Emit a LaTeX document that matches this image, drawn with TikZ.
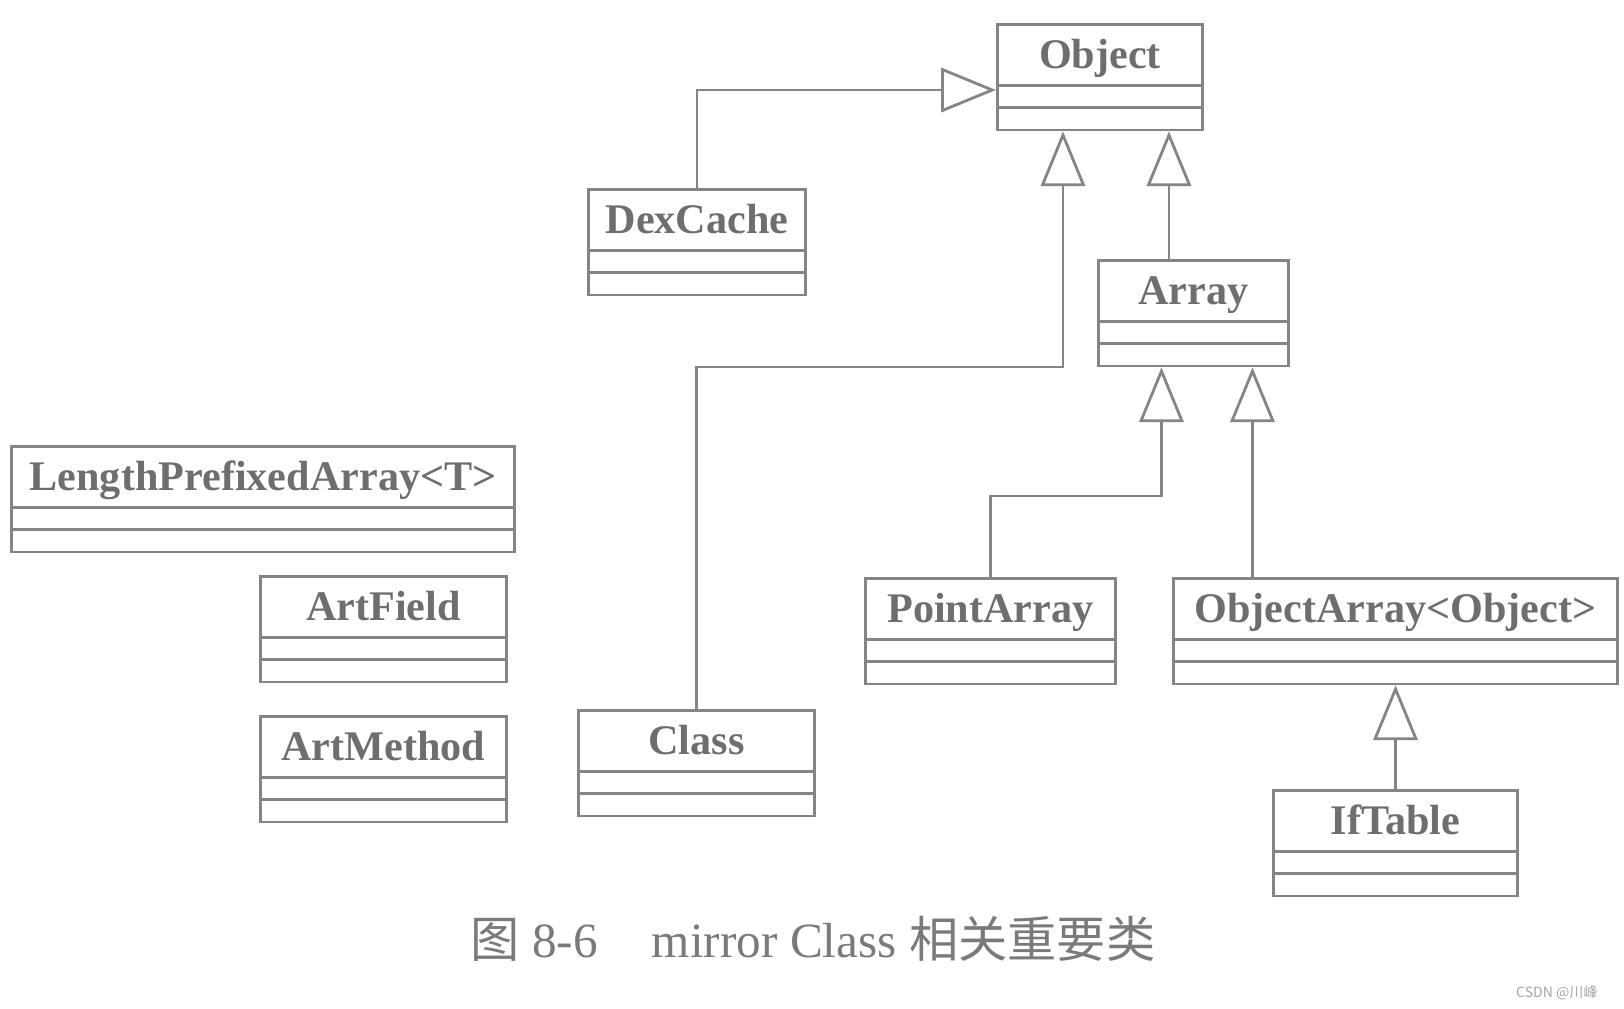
\documentclass[tikz,border=0pt]{standalone}
\usepackage{fontspec}
\setmainfont{Liberation Serif}
\newfontfamily\cjk{Noto Sans CJK SC}
\usepackage{tikz}
\usetikzlibrary{arrows.meta,shapes.multipart,calc}
\definecolor{umlLine}{HTML}{858585}
\definecolor{umlText}{HTML}{6E6E6E}
\definecolor{umlCaption}{HTML}{7A7A7A}
\newcommand{\headstrut}{\rule[-0.15cm]{0pt}{0.58cm}}
\newcommand{\fieldstrut}{\rule{0pt}{0.195cm}}
\tikzset{
  umlclass/.style={
    rectangle split,
    rectangle split parts=3,
    draw=umlLine,
    line width=0.8pt,
    inner sep=0pt,
    anchor=north west,
    text=umlText,
    font=\fontsize{12}{14}\selectfont\bfseries
  },
  inherit/.style={-{Triangle[open,length=15.6pt,width=12.6pt]}, line width=0.8pt, draw=umlLine}
}

\begin{document}
\begin{tikzpicture}[x=0.01cm, y=-0.01cm]
  \useasboundingbox (0,0) rectangle (1624,1008);

  \node[umlclass, minimum width=2.05cm] (object) at (996,23) {\headstrut Object\nodepart{two}\fieldstrut\nodepart{three}\fieldstrut};
  \node[umlclass, minimum width=2.17cm] (dexCache) at (587,188) {\headstrut DexCache\nodepart{two}\fieldstrut\nodepart{three}\fieldstrut};
  \node[umlclass, minimum width=1.90cm] (array) at (1097,259) {\headstrut Array\nodepart{two}\fieldstrut\nodepart{three}\fieldstrut};
  \node[umlclass, minimum width=5.03cm] (lengthPrefixed) at (10,445) {\headstrut LengthPrefixedArray<T>\nodepart{two}\fieldstrut\nodepart{three}\fieldstrut};
  \node[umlclass, minimum width=2.46cm] (artField) at (259,575) {\headstrut ArtField\nodepart{two}\fieldstrut\nodepart{three}\fieldstrut};
  \node[umlclass, minimum width=2.46cm] (artMethod) at (259,715) {\headstrut ArtMethod\nodepart{two}\fieldstrut\nodepart{three}\fieldstrut};
  \node[umlclass, minimum width=2.36cm] (class) at (577,709) {\headstrut Class\nodepart{two}\fieldstrut\nodepart{three}\fieldstrut};
  \node[umlclass, minimum width=2.50cm] (pointArray) at (864,577) {\headstrut PointArray\nodepart{two}\fieldstrut\nodepart{three}\fieldstrut};
  \node[umlclass, minimum width=4.44cm] (objectArray) at (1172,577) {\headstrut ObjectArray<Object>\nodepart{two}\fieldstrut\nodepart{three}\fieldstrut};
  \node[umlclass, minimum width=2.44cm] (ifTable) at (1272,789) {\headstrut IfTable\nodepart{two}\fieldstrut\nodepart{three}\fieldstrut};

  % attachment points
  \coordinate (objectIn) at ($(object.north west)+(0,67)$);
  \coordinate (objectL) at ($(object.south)+(-37,0)$);
  \coordinate (objectR) at ($(object.south)+(69,0)$);
  \coordinate (arrayL) at ($(array.south)+(-32,0)$);
  \coordinate (arrayR) at ($(array.south)+(59,0)$);

  \draw[inherit] (dexCache.north) |- (objectIn);
  \draw[inherit] (class.north) -- ++(0,-342) -| (objectL);
  \draw[inherit] (objectR |- array.north) -- (objectR);
  \draw[inherit] (pointArray.north) -- ++(0,-81) -| (arrayL);
  \draw[inherit] (arrayR |- objectArray.north) -- (arrayR);
  \draw[inherit] (ifTable.north) -- (objectArray.south);

  \node[anchor=base, text=umlCaption, font=\fontsize{14}{16}\selectfont] (caption) at (813,957)
    {{\cjk 图} 8-6\hspace{1.1em}mirror Class {\cjk 相关重要类}};
  \node[anchor=east, text=gray!70, font=\cjk\fontsize{4}{5}\selectfont] (watermark) at (1610,993) {CSDN @川峰};
\end{tikzpicture}
\end{document}
